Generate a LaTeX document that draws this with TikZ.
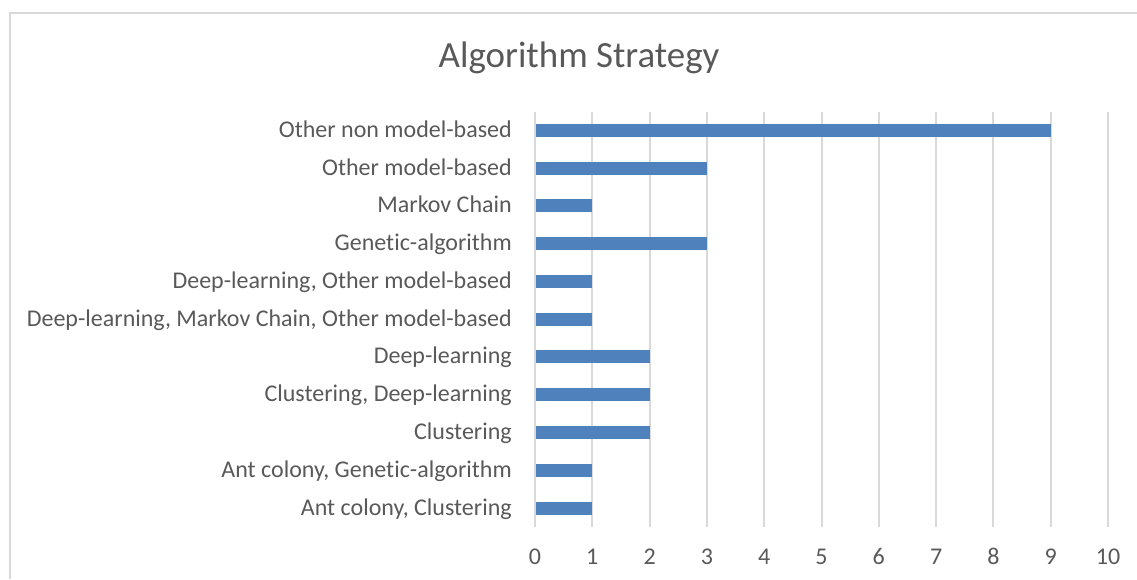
\documentclass[tikz,border=0pt]{standalone}
\usepackage{fontspec}
\setmainfont{Carlito}[Ligatures=NoCommon]
\definecolor{barblue}{RGB}{79,129,189}
\definecolor{gridgray}{RGB}{217,217,217}
\definecolor{textgray}{RGB}{89,89,89}
\tikzset{
  bar/.style={fill=barblue},
  gridline/.style={gridgray, line width=1.5pt},
  catlabel/.style={anchor=base east, inner sep=0pt, text=textgray, font=\fontsize{18}{18}\selectfont},
  ticklabel/.style={anchor=base, inner sep=0pt, text=textgray, font=\fontsize{18}{18}\selectfont},
  charttitle/.style={anchor=base, inner sep=0pt, text=textgray, font=\fontsize{27.7}{28}\selectfont},
}
\begin{document}
\begin{tikzpicture}[x=0.75pt,y=-0.75pt]
\useasboundingbox (0,0) rectangle (1137,579);

% chart area
\draw [gridgray, line width=1.5pt] (10,579) -- (10,13) -- (1137,13);
\node [charttitle] (title) at (579,67) {Algorithm Strategy};

% value axis
\foreach \v in {0,...,10} {
  \draw [gridline] (535+57.3*\v,112) -- (535+57.3*\v,527);
  \node [ticklabel] (tick\v) at (535+57.3*\v,564) {\v};
}

% bars, top to bottom
\foreach \val/\name [count=\i from 0] in {
  {9/Other non model-based},
  {3/Other model-based},
  {1/Markov Chain},
  {3/Genetic-algorithm},
  {1/Deep-learning, Other model-based},
  {1/Deep-learning, Markov Chain, Other model-based},
  {2/Deep-learning},
  {2/Clustering, Deep-learning},
  {2/Clustering},
  {1/Ant colony, Genetic-algorithm},
  {1/Ant colony, Clustering}} {
  \fill [bar] (536,130.3+37.77*\i-6.5) rectangle (535+57.3*\val,130.3+37.77*\i+6.5);
  \node [catlabel] (cat\i) at (512,130.3+37.77*\i+7) {\name};
}
\end{tikzpicture}
\end{document}
